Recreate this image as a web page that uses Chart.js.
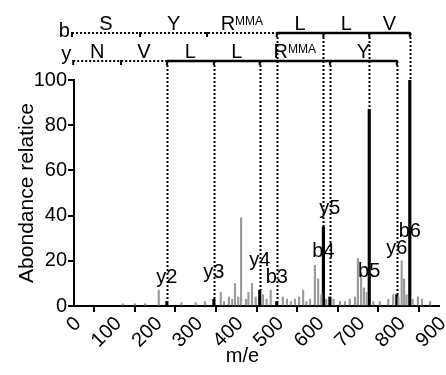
<!DOCTYPE html>
<html>
<head>
<meta charset="utf-8">
<script src="https://cdn.jsdelivr.net/npm/chart.js@4/dist/chart.umd.min.js"></script>
<style>
  html, body { margin: 0; padding: 0; background: #fff; }
</style>
</head>
<body>
<canvas id="spectrum" width="446" height="375"></canvas>
<script>
// fragment ions (labelled peaks)
const fragmentLabels = ["y2", "y3", "y4", "b3", "b4", "y5", "b5", "y6", "b6"];
const fragmentMz = [229, 345, 458, 500, 615, 631, 728, 796, 828];
const fragmentInt = [2, 3, 7, 2, 35, 4, 87, 5, 100];

// unassigned background peaks
const noiseMz = [120, 150, 175, 209, 265, 300, 323, 362, 370, 382, 390, 397, 405, 412, 424, 430, 439, 448,
  466, 475, 485, 515, 525, 535, 545, 555, 565, 573, 582, 594, 602, 610, 622, 640, 656, 668, 680, 693,
  700, 708, 715, 722, 738, 754, 775, 787, 800, 808, 814, 820, 835, 848, 858, 878];
const noiseInt = [1, 1, 1, 7, 1.5, 1.5, 2, 6, 2, 4, 3, 10, 4, 39, 3, 6, 10, 4,
  5, 3, 7, 4, 3, 2, 3, 4, 7, 2, 3, 18, 12, 5, 3, 3, 2, 2, 3, 4,
  21, 15, 8, 6, 2, 2, 3, 5, 4, 20, 12, 5, 3, 4, 3, 2];

// sequence ladders
const bResidues = ["S", "Y", "R", "L", "L", "V"];
const bBreaks = [-5, 163, 328, 500, 615, 728, 828];
const yResidues = ["N", "V", "L", "L", "R", "Y"];
const yBreaks = [-2, 116, 229, 345, 458, 631, 796];

const xTicks = [0, 100, 200, 300, 400, 500, 600, 700, 800, 900];
const yTicks = [0, 20, 40, 60, 80, 100];

const FONT = "'Liberation Sans', Arial, sans-serif";

const ladderPlugin = {
  id: "ladder",
  afterDatasetsDraw(chart) {
    const ctx = chart.ctx;
    const px = m => chart.scales.x.getPixelForValue(m);
    const py = v => chart.scales.y.getPixelForValue(v);

    const rows = [
      { name: "b", y: 33, nameDy: 4, breaks: bBreaks, residues: bResidues, solidFrom: 3 },
      { name: "y", y: 61, nameDy: -1, breaks: yBreaks, residues: yResidues, solidFrom: 2 }
    ];

    ctx.save();
    ctx.strokeStyle = "#000";
    ctx.fillStyle = "#000";

    // vertical dotted lines from ladder down to the peak
    fragmentLabels.forEach((lab, i) => {
      const rowY = lab[0] === "b" ? rows[0].y : rows[1].y;
      const x = Math.round(px(fragmentMz[i])) + 0.5;
      ctx.lineWidth = 2;
      ctx.setLineDash([2, 2]);
      ctx.beginPath();
      ctx.moveTo(x, rowY);
      ctx.lineTo(x, py(fragmentInt[i]));
      ctx.stroke();
    });

    rows.forEach(row => {
      const xs = row.breaks.map(px);
      const sx = xs[row.solidFrom];
      ctx.lineWidth = 2;
      ctx.setLineDash([2, 2]);
      ctx.beginPath();
      ctx.moveTo(xs[0], row.y);
      ctx.lineTo(sx, row.y);
      ctx.stroke();
      ctx.setLineDash([]);
      ctx.lineWidth = 2.5;
      ctx.beginPath();
      ctx.moveTo(sx, row.y);
      ctx.lineTo(xs[xs.length - 1], row.y);
      ctx.stroke();
      // small marks at each cleavage
      ctx.lineWidth = 2;
      xs.forEach(x => {
        ctx.beginPath();
        ctx.moveTo(x, row.y - 1);
        ctx.lineTo(x, row.y + 4);
        ctx.stroke();
      });

      // row name
      ctx.font = "20px " + FONT;
      ctx.textAlign = "right";
      ctx.textBaseline = "alphabetic";
      ctx.fillText(row.name, xs[0] - 2, row.y + row.nameDy);

      // residue letters
      row.residues.forEach((r, i) => {
        const cx = (xs[i] + xs[i + 1]) / 2;
        const base = row.y - 3;
        if (r === "R") {
          ctx.font = "20px " + FONT;
          const wR = ctx.measureText("R").width;
          ctx.font = "12px " + FONT;
          const wM = ctx.measureText("MMA").width;
          const left = cx - (wR + wM) / 2;
          ctx.textAlign = "left";
          ctx.font = "20px " + FONT;
          ctx.fillText("R", left, base);
          ctx.font = "12px " + FONT;
          ctx.fillText("MMA", left + wR, base - 5);
        } else {
          ctx.textAlign = "center";
          ctx.font = "20px " + FONT;
          ctx.fillText(r, cx, base);
        }
      });
    });

    // ion labels
    const labelAt = [10.2, 12.4, 17.7, 10.2, 21.7, 40.7, 12.8, 23, 30.5];
    ctx.font = "20px " + FONT;
    ctx.textAlign = "center";
    ctx.textBaseline = "alphabetic";
    fragmentLabels.forEach((lab, i) => {
      ctx.fillText(lab, px(fragmentMz[i]), py(labelAt[i]));
    });

    // x axis title, sits a little left of centre in the original
    const area = chart.chartArea;
    ctx.fillText("m/e", (area.left + area.right) / 2 - 14, 362);
    ctx.restore();
  }
};

const toPoints = (xs, ys) => xs.map((x, i) => ({ x: x, y: ys[i] }));

new Chart(document.getElementById("spectrum"), {
  type: "bar",
  data: {
    datasets: [
      {
        data: toPoints(noiseMz, noiseInt),
        backgroundColor: "#9a9a9a",
        barThickness: 1.5,
        grouped: false
      },
      {
        data: toPoints(fragmentMz, fragmentInt),
        backgroundColor: "#000",
        barThickness: 2.5,
        grouped: false
      }
    ]
  },
  options: {
    responsive: false,
    animation: false,
    layout: { padding: { top: 80, right: 7, bottom: 0, left: 0 } },
    plugins: { legend: { display: false }, tooltip: { enabled: false } },
    scales: {
      x: {
        type: "linear",
        min: 0,
        max: 900,
        offset: false,
        afterFit: scale => {
          scale.height = 69;
          scale.paddingLeft = 0;
          scale.paddingRight = 0;
        },
        afterBuildTicks: scale => { scale.ticks = xTicks.map(v => ({ value: v })); },
        border: { color: "#000", width: 2 },
        grid: { display: true, drawOnChartArea: false, color: "#000", lineWidth: 2, tickLength: 6 },
        ticks: {
          color: "#000",
          font: { family: FONT, size: 20 },
          minRotation: 45,
          maxRotation: 45,
          labelOffset: 4,
          padding: 0
        }
      },
      y: {
        min: 0,
        max: 100,
        afterFit: scale => {
          scale.width = 74;
          scale.paddingTop = 0;
          scale.paddingBottom = 0;
        },
        afterBuildTicks: scale => { scale.ticks = yTicks.map(v => ({ value: v })); },
        border: { color: "#000", width: 2 },
        grid: { display: true, drawOnChartArea: false, color: "#000", lineWidth: 2, tickLength: 6 },
        ticks: {
          color: "#000",
          font: { family: FONT, size: 20 },
          padding: 1
        },
        title: {
          display: true,
          text: "Abondance relatice",
          color: "#000",
          font: { family: FONT, size: 21 },
          padding: { top: 15, bottom: 0 }
        }
      }
    }
  },
  plugins: [ladderPlugin]
});
</script>
</body>
</html>
